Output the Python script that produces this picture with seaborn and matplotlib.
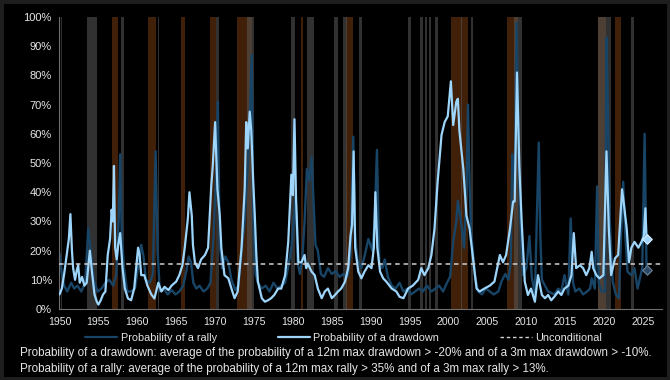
import pandas as pd
import matplotlib
matplotlib.use("Agg")
import matplotlib.pyplot as plt
from matplotlib import font_manager
from matplotlib.lines import Line2D
from matplotlib.patches import Rectangle
import seaborn as sns

# Probability of a drawdown (light blue)
dd_years = [1950.0, 1950.3, 1950.6, 1950.9, 1951.2, 1951.4, 1951.6, 1951.75, 1952.0, 1952.2, 1952.4, 1952.6, 1952.9,
            1953.2, 1953.5, 1953.9, 1954.2, 1954.5, 1954.8, 1955.0, 1955.3, 1955.6, 1955.9, 1956.2, 1956.5, 1956.7,
            1956.85, 1957.0, 1957.15, 1957.35, 1957.55, 1957.8, 1958.1, 1958.4, 1958.8, 1959.2, 1959.6, 1960.1,
            1960.3, 1960.5, 1960.9, 1961.3, 1961.8, 1962.2, 1962.7, 1963.1, 1963.5, 1964.0, 1964.4, 1965.0, 1965.4,
            1965.8, 1966.1, 1966.5, 1966.7, 1967.0, 1967.15, 1967.4, 1967.8, 1968.2, 1968.7, 1969.1, 1969.5, 1969.7,
            1970.0, 1970.3, 1970.6, 1970.8, 1971.2, 1971.7, 1972.1, 1972.5, 1972.9, 1973.4, 1973.8, 1974.0, 1974.2,
            1974.45, 1974.65, 1974.9, 1975.1, 1975.3, 1975.5, 1976.0, 1976.4, 1976.8, 1977.2, 1977.6, 1978.1, 1978.5,
            1979.0, 1979.4, 1979.8, 1980.0, 1980.2, 1980.4, 1980.7, 1981.1, 1981.5, 1981.7, 1981.9, 1982.4, 1982.8,
            1983.2, 1983.7, 1984.1, 1984.5, 1985.0, 1985.4, 1985.8, 1986.2, 1986.7, 1987.1, 1987.4, 1987.6, 1987.8,
            1988.0, 1988.4, 1988.8, 1989.2, 1989.7, 1990.1, 1990.4, 1990.6, 1990.85, 1991.2, 1991.6, 1992.0, 1992.7,
            1993.3, 1993.7, 1994.2, 1994.8, 1995.4, 1996.1, 1996.5, 1996.9, 1997.4, 1997.8, 1998.2, 1998.6, 1999.1,
            1999.5, 1999.9, 2000.3, 2000.6, 2001.0, 2001.2, 2001.4, 2001.9, 2002.3, 2002.7, 2003.1, 2003.6, 2004.0,
            2004.6, 2005.3, 2005.9, 2006.6, 2007.0, 2007.4, 2007.9, 2008.3, 2008.5, 2008.8, 2009.1, 2009.4, 2009.8,
            2010.2, 2010.6, 2011.1, 2011.5, 2012.0, 2012.4, 2012.8, 2013.2, 2013.6, 2014.1, 2014.5, 2014.9, 2015.4,
            2015.8, 2016.1, 2016.4, 2016.9, 2017.3, 2017.7, 2018.1, 2018.4, 2018.6, 2019.0, 2019.4, 2019.9, 2020.3,
            2020.6, 2020.9, 2021.4, 2021.8, 2022.1, 2022.3, 2022.5, 2022.9, 2023.2, 2023.5, 2023.9, 2024.4, 2024.8,
            2025.1, 2025.3, 2025.45]
dd_vals = [5, 7, 12, 18, 24, 32.5, 20, 14, 10, 13, 15, 9, 11,
           8, 9, 20, 12, 5, 2.5, 1.5, 3, 5, 6, 18.5, 24, 34,
           30, 49, 21, 17, 22, 26, 14, 7, 3.6, 3, 7, 21,
           18.5, 11.6, 11.6, 8, 5, 3.6, 9, 6, 7.6, 6.5, 8, 9.4, 11.6,
           15, 21, 31, 40, 32, 22, 16, 14, 17, 18.5, 21, 42, 49,
           64, 41, 32, 21, 11.6, 10.5, 7, 3.7, 6, 21, 41, 64, 55,
           67.6, 61, 43.6, 32, 18.5, 9.4, 3.7, 2.5, 3, 3.7, 4.8, 7, 7,
           11.6, 23, 46, 39, 65, 38, 16, 16, 18.5, 14, 15.6, 12.8, 11.6,
           7, 3.7, 6, 7, 3.7, 4.8, 6, 7, 9.4, 14, 25, 28.8, 54,
           21, 12.8, 10.5, 12.8, 15, 14, 21, 40, 21, 12.8, 10.5, 9.4, 7,
           6, 4.2, 3.7, 7, 8, 10, 14, 11.6, 14, 18.5, 27.6, 43.6, 59.6,
           64, 66, 78, 63, 71, 72, 61, 48, 32, 27.6, 18.5, 7, 6,
           7, 8, 9.4, 18.5, 16, 18.5, 27.6, 36.8, 36.8, 81, 49, 30, 9.4,
           4.8, 7, 2.5, 11.6, 4.8, 3.7, 4.8, 3, 4.2, 6, 4.8, 7, 8,
           11.6, 26, 14, 15, 14, 11.6, 14, 19.6, 14, 11.6, 10.5, 11.6, 54,
           27.6, 11.6, 17.4, 18.5, 32, 41, 36.8, 27.6, 16, 21, 23, 21, 23,
           25, 34.5, 24]

# Probability of a rally (dark blue)
rally_years = [1950.0, 1950.3, 1950.6, 1951.0, 1951.5, 1951.9, 1952.3, 1952.8, 1953.3, 1953.7, 1954.0, 1954.4, 1954.9,
               1955.4, 1955.9, 1956.4, 1956.9, 1957.3, 1957.6, 1957.8, 1958.0, 1958.3, 1958.7, 1959.2, 1959.7, 1960.2,
               1960.5, 1960.8, 1961.1, 1961.6, 1962.0, 1962.35, 1962.6, 1962.9, 1963.4, 1963.9, 1964.4, 1964.9, 1965.4,
               1965.9, 1966.3, 1966.6, 1966.9, 1967.2, 1967.6, 1968.0, 1968.5, 1969.0, 1969.4, 1969.8, 1970.1, 1970.35,
               1970.6, 1970.9, 1971.3, 1971.7, 1972.1, 1972.6, 1973.0, 1973.4, 1973.8, 1974.1, 1974.4, 1974.7, 1974.9,
               1975.2, 1975.5, 1976.0, 1976.5, 1977.0, 1977.5, 1978.0, 1978.5, 1979.0, 1979.5, 1979.8, 1980.1, 1980.35,
               1980.6, 1980.9, 1981.2, 1981.5, 1981.8, 1982.1, 1982.4, 1982.6, 1982.9, 1983.2, 1983.6, 1984.0, 1984.5,
               1985.0, 1985.5, 1986.0, 1986.5, 1987.0, 1987.4, 1987.75, 1988.0, 1988.3, 1988.8, 1989.2, 1989.7, 1990.2,
               1990.5, 1990.8, 1991.1, 1991.5, 1991.8, 1992.2, 1992.7, 1993.2, 1993.7, 1994.2, 1994.7, 1995.2, 1995.7,
               1996.2, 1996.7, 1997.2, 1997.8, 1998.3, 1998.8, 1999.3, 1999.8, 2000.2, 2000.6, 2001.0, 2001.2, 2001.6,
               2002.0, 2002.3, 2002.5, 2002.7, 2002.9, 2003.4, 2003.8, 2004.3, 2004.8, 2005.3, 2005.8, 2006.4, 2006.8,
               2007.3, 2007.7, 2008.0, 2008.2, 2008.5, 2008.75, 2009.0, 2009.2, 2009.6, 2010.0, 2010.4, 2010.7, 2011.1,
               2011.6, 2011.8, 2012.0, 2012.4, 2012.8, 2013.2, 2013.6, 2014.1, 2014.5, 2014.9, 2015.4, 2015.7, 2016.0,
               2016.3, 2016.8, 2017.3, 2017.8, 2018.2, 2018.4, 2018.8, 2019.1, 2019.3, 2019.7, 2020.1, 2020.3, 2020.5,
               2020.7, 2021.1, 2021.5, 2021.9, 2022.2, 2022.45, 2022.7, 2023.0, 2023.5, 2023.9, 2024.3, 2024.6, 2024.9,
               2025.2, 2025.45]
rally_vals = [19, 12, 8, 6, 9, 7, 8, 6, 9, 27.6, 20, 10, 6,
              7, 9, 10, 8, 11.6, 30, 53, 25, 14, 6, 6, 7, 16,
              22, 18, 10, 9, 12, 54, 20, 6, 7, 5, 6.5, 5, 6,
              8, 13, 18, 16, 9, 7, 8, 6, 7, 9, 25, 45, 71,
              22, 14, 18, 16, 10, 6.5, 8, 20, 30, 45, 60, 87, 32,
              12, 9, 7, 8, 6, 9, 7, 8, 9, 16, 21, 30, 39,
              16, 12, 17, 30, 48, 44, 52, 40, 22, 20, 12, 11, 14,
              12, 13, 11, 12, 11, 18, 59, 25, 17, 14, 18, 24, 20,
              30, 54.5, 16, 14, 17, 11, 8, 7, 9, 6, 7, 5, 6,
              7, 6, 8, 6, 7, 8, 6, 9, 11, 23, 30, 37, 30,
              21, 40, 70, 43, 26.5, 11.6, 6, 5, 7, 6, 5, 6, 9.4,
              12, 10, 16, 53, 40, 98, 55, 32, 11.6, 14, 25, 11, 5,
              57, 25, 10, 8, 6, 5.5, 5, 7, 6, 11.6, 5, 31, 9,
              6, 7, 5, 6, 7, 10.5, 7, 42, 9, 6, 6, 93, 66,
              32, 9.4, 5, 3.7, 26.5, 43.6, 26.5, 12.8, 11.6, 14, 7, 10.5, 14,
              60, 13.4]

unconditional = 15.5

# shaded periods
brown_starts = [1956.75, 1961.34, 1965.6, 1969.3, 1972.85, 1981.05, 1986.8, 2000.36, 2007.56, 2019.21, 2021.44]
brown_ends = [1957.52, 1962.37, 1966.17, 1970.1, 1974.7, 1981.27, 1987.75, 2002.5, 2008.93, 2020.2, 2022.2]
grey_starts = [1950.2, 1953.57, 1957.9, 1962.62, 1970.1, 1973.15, 1974.1, 1979.78, 1981.85, 1985.25, 1986.45,
               1988.5, 1994.8, 1996.3, 1996.94, 1997.45, 1998.22, 2001.6, 2002.94, 2008.38, 2019.21, 2023.5]
grey_ends = [1950.35, 1954.86, 1958.3, 1962.79, 1970.55, 1973.25, 1975.0, 1980.3, 1982.7, 1985.8, 1986.95,
             1988.9, 1995.2, 1996.7, 1997.28, 1997.8, 1998.65, 2001.7, 2003.15, 2009.45, 2020.84, 2023.84]

x_ticks = list(range(1950, 2026, 5))
y_ticks = list(range(0, 101, 10))

caption = ["Probability of a drawdown: average of the probability of a 12m max drawdown > -20% and of a 3m max drawdown > -10%.",
           "Probability of a rally: average of the probability of a 12m max rally > 35% and of a 3m max rally > 13%."]

sns.set_style("dark", {"axes.facecolor": "black", "figure.facecolor": "black"})
names = {f.name for f in font_manager.fontManager.ttflist}
narrow = "Liberation Sans Narrow" in names
plt.rcParams["font.family"] = ["Liberation Sans Narrow" if narrow else "Liberation Sans", "DejaVu Sans"]
cap_size = 9.8 if narrow else 8.4
leg_size = 8.6 if narrow else 7.8

c_rally = "#184466"
c_dd = "#9dd5fb"
txt = "#e6e6e6"

df_dd = pd.DataFrame({"year": dd_years, "prob": dd_vals})
df_rally = pd.DataFrame({"year": rally_years, "prob": rally_vals})

fig = plt.figure(figsize=(6.7, 3.8), dpi=100, facecolor="black")
ax = fig.add_axes([0.0888, 0.1868, 0.8993, 0.7684])
ax.set_facecolor("black")

for s, e in zip(brown_starts, brown_ends):
    ax.axvspan(s, e, color="#6a3510", alpha=0.62, lw=0, zorder=0)
for s, e in zip(grey_starts, grey_ends):
    ax.axvspan(s, e, color="#5a5a5a", alpha=0.55, lw=0, zorder=0)

sns.lineplot(data=df_rally, x="year", y="prob", ax=ax, color=c_rally, lw=1.7, zorder=2)
sns.lineplot(data=df_dd, x="year", y="prob", ax=ax, color=c_dd, lw=1.6, zorder=3)
ax.axhline(unconditional, color="#d0d0d0", lw=1.1, ls=(0, (3, 2.5)), zorder=4)

ax.scatter([dd_years[-1]], [dd_vals[-1]], marker="D", s=24, color=c_dd, edgecolor="#d8ecff", lw=0.8, zorder=5)
ax.scatter([rally_years[-1]], [rally_vals[-1]], marker="D", s=24, color="#2b4a66", edgecolor="#6f8194", lw=0.8, zorder=5)

ax.set_xlim(1950, 2027.44)
ax.set_ylim(0, 100)
ax.set_xticks(x_ticks)
ax.set_yticks(y_ticks)
ax.set_yticklabels([f"{v}%" for v in y_ticks])
ax.set_xlabel("")
ax.set_ylabel("")
ax.grid(False)
for side in ["top", "right"]:
    ax.spines[side].set_visible(False)
for side in ["left", "bottom"]:
    ax.spines[side].set_visible(True)
    ax.spines[side].set_color("#6e6e6e")
    ax.spines[side].set_linewidth(0.8)
ax.tick_params(axis="both", colors="#6e6e6e", labelcolor=txt, length=3, width=0.8, labelsize=8, pad=2.5)
ax.tick_params(axis="x", labelsize=7.6)

handles = [Line2D([], [], color=c_rally, lw=1.6),
           Line2D([], [], color=c_dd, lw=1.6),
           Line2D([], [], color="#d0d0d0", lw=1.0, ls=(0, (2.5, 2)))]
labels = ["Probability of a rally", "Probability of a drawdown", "Unconditional"]
leg = fig.legend(handles, labels, loc="center", bbox_to_anchor=(0.513, 1 - 338 / 380), ncol=3, frameon=False,
                 fontsize=leg_size, handlelength=3.0, handletextpad=0.3, columnspacing=5.6, labelcolor=txt)

fig.text(20 / 670, 1 - 353 / 380, caption[0], color=txt, fontsize=cap_size, va="center", ha="left")
fig.text(20 / 670, 1 - 369 / 380, caption[1], color=txt, fontsize=cap_size, va="center", ha="left")

fig.patches.append(Rectangle((0, 0), 1, 1, transform=fig.transFigure, fill=False, edgecolor="#1e1e1e", lw=5))

fig.savefig("out.png", dpi=100, facecolor="black")
